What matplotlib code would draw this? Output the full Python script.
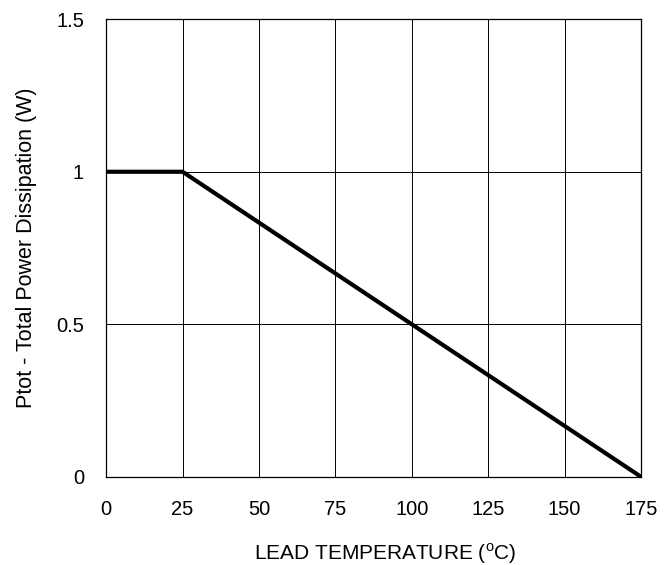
import matplotlib
matplotlib.use("Agg")
import matplotlib.pyplot as plt

plt.rcParams['font.family'] = ['Liberation Sans', 'DejaVu Sans']
plt.rcParams['mathtext.fontset'] = 'custom'
plt.rcParams['mathtext.rm'] = 'Liberation Sans'

temp = [0, 25, 175]
power = [1, 1, 0]
xticks = [0, 25, 50, 75, 100, 125, 150, 175]
yticks = [0, 0.5, 1, 1.5]
ylabels = ["0", "0.5", "1", "1.5"]

fig = plt.figure(figsize=(6.72, 5.65), dpi=100)
ax = fig.add_axes([0.158, 0.156, 0.796, 0.810])

ax.plot(temp, power, color="black", linewidth=3.0, solid_capstyle="butt")

ax.set_xlim(0, 175)
ax.set_ylim(0, 1.5)
ax.set_xticks(xticks)
ax.set_yticks(yticks)
ax.set_yticklabels(ylabels)
ax.grid(True, color="black", linewidth=0.7)
ax.tick_params(axis="x", length=0, labelsize=14.5, pad=17)
ax.tick_params(axis="y", length=0, labelsize=14.5, pad=16)
for s in ax.spines.values():
    s.set_linewidth(0.9)

ax.set_xlabel(r"LEAD TEMPERATURE ($^\mathrm{o}$C)", fontsize=15, labelpad=16)
ax.xaxis.label.set_x(0.522)
ax.set_ylabel("Ptot - Total Power Dissipation (W)", fontsize=15.5, labelpad=14)

fig.savefig("out.png", dpi=100)
